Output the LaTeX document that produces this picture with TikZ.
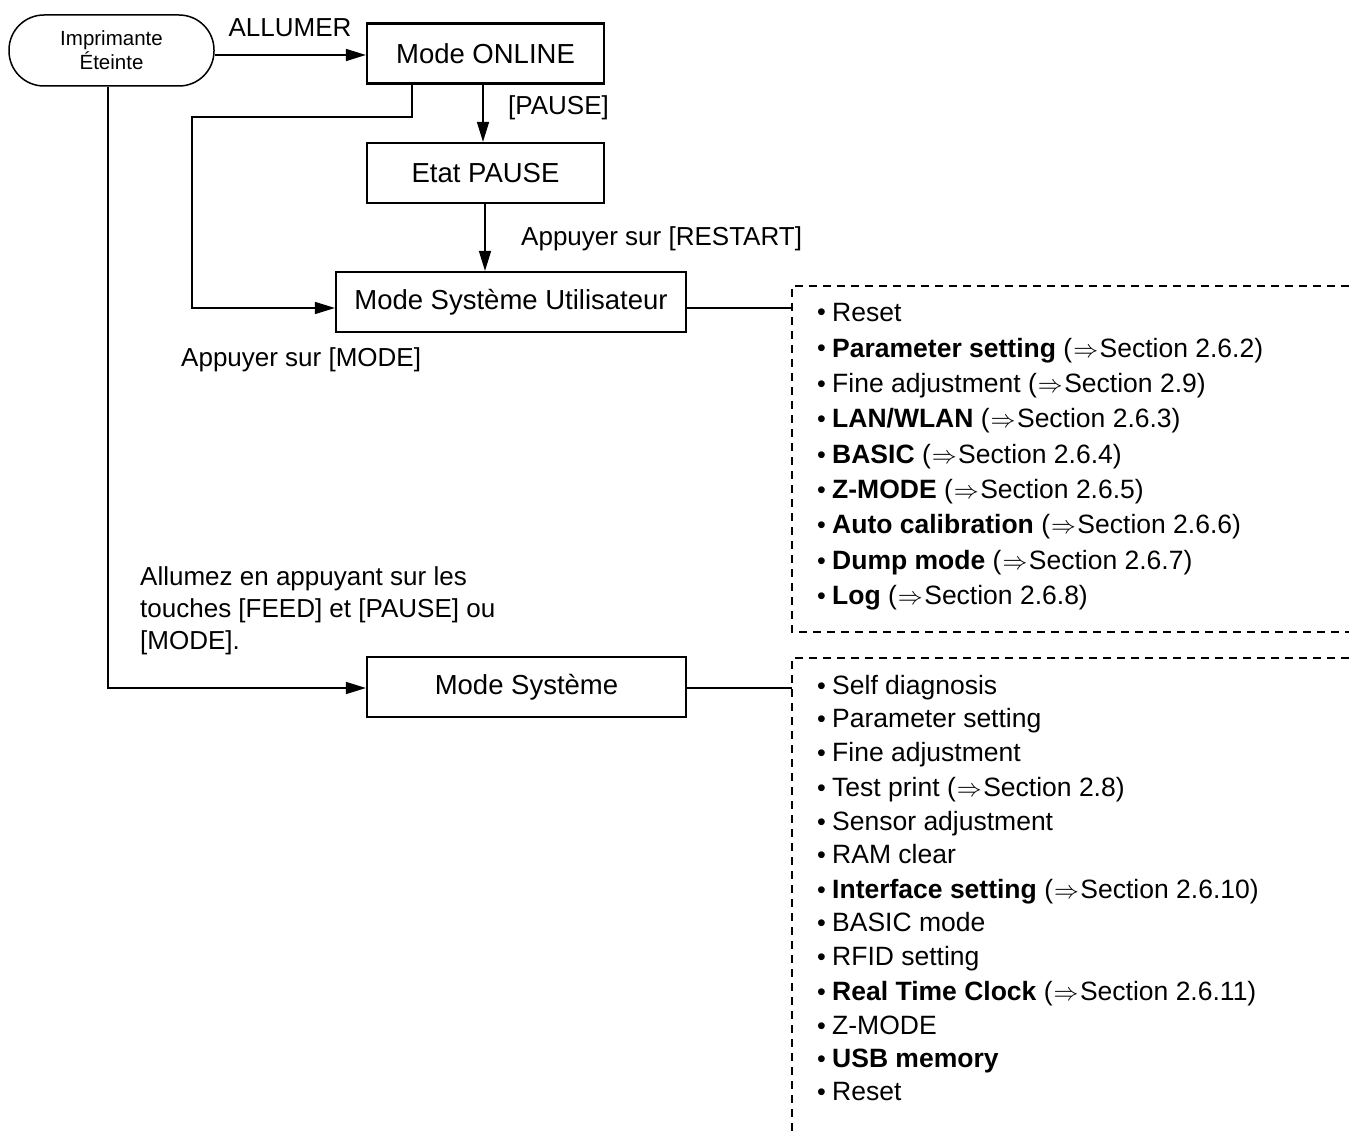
\documentclass[tikz,border=0pt]{standalone}
\usepackage{fontspec}
\setmainfont{Liberation Sans}
\usetikzlibrary{arrows.meta}
\newcommand\imparr{\kern1pt{\fontsize{30}{30}\selectfont$\Rightarrow$}\kern1.5pt}
\newcommand\bul{\makebox[15pt][l]{\raisebox{0.5pt}{\fontsize{25}{25}\selectfont•}}}
\begin{document}
\begin{tikzpicture}[x=1pt,y=-1pt,
  box/.style={draw,line width=2.2pt,minimum height=60pt,inner sep=0pt,font=\fontsize{27.5}{30}\selectfont},
  conn/.style={line width=1.5pt},
  arr/.style={conn,-{Triangle[length=20pt,width=12pt]}},
  lbl/.style={inner sep=0pt,font=\fontsize{26}{32}\selectfont},
  itm/.style={anchor=base west,inner sep=0pt,font=\fontsize{26.5}{30}\selectfont},
  dbox/.style={line width=1.8pt,dash pattern=on 8pt off 6pt}]
\useasboundingbox (0,0) rectangle (1349,1131);

% nodes
\node[draw,line width=1.5pt,rounded corners=35pt,minimum width=205pt,minimum height=71pt,inner sep=0pt,
      font=\fontsize{20.5}{24}\selectfont,align=center] (off) at (111.5,50.5) {Imprimante\\Éteinte};
\node[box,minimum width=237pt] (online) at (485.5,53.5) {Mode ONLINE};
\node[box,minimum width=237pt] (pause) at (485.5,173) {Etat PAUSE};
\node[box,minimum width=350pt] (msu) at (511,302) {Mode Système Utilisateur};
\node[box,minimum width=319pt] (ms) at (526.5,687) {Mode Système};

% labels
\node[lbl] (lallumer) at (290,28) {ALLUMER};
\node[lbl,anchor=west] (lpause) at (508,108) {[PAUSE]};
\node[lbl,anchor=west] (lrestart) at (521,239) {Appuyer sur [RESTART]};
\node[lbl,anchor=west] (lmode) at (181,360) {Appuyer sur [MODE]};
\node[lbl,anchor=west,align=left] (lallumez) at (140,611) {Allumez en appuyant sur les\\touches [FEED] et [PAUSE] ou\\\relax[MODE].};

% dashed boxes
\coordinate (d1) at (792,308);
\coordinate (d2) at (792,688);
\draw[dbox] (1349,286) -- (792,286) -- (792,632) -- (1349,632);
\draw[dbox] (1349,658) -- (792,658) -- (792,1131);

% connectors
\draw[arr] (off.east |- 0,55) -- (online.west |- 0,55);
\draw[arr] (online.south -| 483,0) -- (pause.north -| 483,0);
\draw[arr] (pause.south -| 485,0) -- (msu.north -| 485,0);
\coordinate (k1) at (412,117);
\coordinate (k2) at (192,117);
\draw[arr] (online.south -| k1) -- (k1) -- (k2) |- (msu.west |- 0,308);
\draw[arr] (off.south -| 108,0) |- (ms.west |- 0,688);
\draw[conn] (msu.east |- d1) -- (d1);
\draw[conn] (ms.east |- d2) -- (d2);

% list 1
\foreach \y/\t [count=\i] in {
  312/{Reset},
  348/{\textbf{Parameter setting} (\imparr Section 2.6.2)},
  383/{Fine adjustment (\imparr Section 2.9)},
  418/{\textbf{LAN/WLAN} (\imparr Section 2.6.3)},
  454/{\textbf{BASIC} (\imparr Section 2.6.4)},
  489/{\textbf{Z-MODE} (\imparr Section 2.6.5)},
  524/{\textbf{Auto calibration} (\imparr Section 2.6.6)},
  560/{\textbf{Dump mode} (\imparr Section 2.6.7)},
  595/{\textbf{Log} (\imparr Section 2.6.8)}}
  \node[itm] (ua\i) at (817,\y+9.5) {\bul\t};

% list 2
\foreach \y/\t [count=\i] in {
  685/{Self diagnosis},
  718/{Parameter setting},
  752/{Fine adjustment},
  787/{Test print (\imparr Section 2.8)},
  821/{Sensor adjustment},
  854/{RAM clear},
  889/{\textbf{Interface setting} (\imparr Section 2.6.10)},
  922/{BASIC mode},
  956/{RFID setting},
  991/{\textbf{Real Time Clock} (\imparr Section 2.6.11)},
  1025/{Z-MODE},
  1058/{\textbf{USB memory}},
  1091/{Reset}}
  \node[itm] (sb\i) at (817,\y+9.5) {\bul\t};
\end{tikzpicture}
\end{document}
